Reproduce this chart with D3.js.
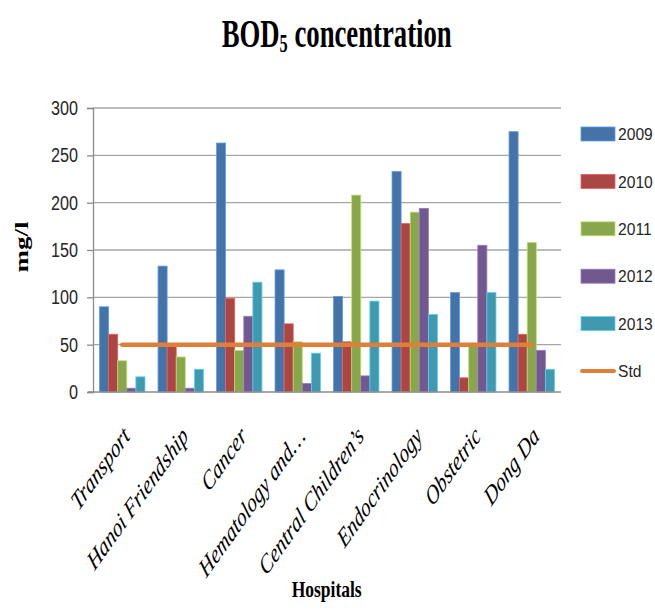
<!DOCTYPE html>
<html>
<head>
<meta charset="utf-8">
<script src="https://cdn.jsdelivr.net/npm/d3@7"></script>
<style>
  html, body { margin: 0; padding: 0; background: #fff; }
  svg { display: block; }
</style>
</head>
<body>
<svg id="chart" width="655" height="610"></svg>
<script>
// ---------- data ----------
const categories = ["Transport", "Hanoi Friendship", "Cancer", "Hematology and\u2026",
  "Central Children\u2019s", "Endocrinology", "Obstetric", "Dong Da"];
const years = ["2009", "2010", "2011", "2012", "2013"];
const v2009 = [90, 133, 263, 129, 101, 233, 105, 275];
const v2010 = [61, 48, 99, 72, 53, 178, 15, 61];
const v2011 = [33, 37, 44, 53, 208, 190, 48, 158];
const v2012 = [4, 4, 80, 9, 17, 194, 155, 44];
const v2013 = [16, 24, 116, 41, 96, 82, 105, 24];
const stdValues = [50, 50, 50, 50, 50, 50, 50, 50];
const yTicks = [0, 50, 100, 150, 200, 250, 300];
const seriesValues = [v2009, v2010, v2011, v2012, v2013];
const colors = ["#4572A7", "#AA4643", "#89A54E", "#71588F", "#4198AF"];
const stdColor = "#DE7F3A";

// ---------- layout ----------
const svg = d3.select("#chart");
const plot = { left: 93, right: 561, top: 108, bottom: 392 };

const x0 = d3.scaleBand().domain(categories).range([plot.left, plot.right]).paddingInner(0).paddingOuter(0);
const x1 = d3.scaleBand().domain(years).range([0, x0.bandwidth()]).paddingInner(0).paddingOuter(0.72);
const y = d3.scaleLinear().domain([0, 300]).range([plot.bottom, plot.top]);

// helper: horizontally scaled text to match a target width
function fitText(parent, x, yPos, str, opts) {
  const g = parent.append("g").attr("transform", `translate(${x},${yPos})`);
  const t = g.append("text")
    .attr("text-anchor", opts.anchor || "start")
    .attr("font-family", opts.family)
    .attr("font-size", opts.size)
    .attr("font-weight", opts.weight || "normal")
    .attr("font-style", opts.style || "normal")
    .attr("fill", opts.fill || "#000")
    .attr("dy", opts.dy || 0);
  if (typeof str === "function") str(t); else t.text(str);
  let sx = opts.sx;
  if (opts.width) {
    const len = t.node().getComputedTextLength();
    sx = opts.width / len;
  }
  g.attr("transform", `translate(${x},${yPos})${opts.rotate ? ` rotate(${opts.rotate})` : ""} scale(${sx || 1},1)`);
  return g;
}

// ---------- gridlines ----------
svg.append("g").selectAll("line").data(yTicks.filter(d => d > 0)).join("line")
  .attr("x1", plot.left).attr("x2", plot.right)
  .attr("y1", d => y(d)).attr("y2", d => y(d))
  .attr("stroke", "#A6A6A6").attr("stroke-width", 1.3);

// ---------- y axis ----------
const yAxis = svg.append("g").attr("transform", `translate(${plot.left},0)`)
  .call(d3.axisLeft(y).tickValues(yTicks).tickSize(6).tickFormat(""));
yAxis.select(".domain").attr("stroke", "#8C8C8C").attr("stroke-width", 1.3);
yAxis.selectAll(".tick line").attr("stroke", "#8C8C8C").attr("stroke-width", 1.3);

yTicks.forEach(d => {
  fitText(svg, 78, y(d), String(d), {
    anchor: "end", family: "Liberation Sans, Arial, sans-serif", size: 19.5,
    sx: 0.83, dy: "0.36em", fill: "#262626"
  });
});

// ---------- bars ----------
const groups = svg.append("g").selectAll("g").data(categories).join("g")
  .attr("transform", d => `translate(${x0(d)},0)`);
groups.selectAll("rect")
  .data((c, i) => years.map((yr, k) => ({ yr, k, v: seriesValues[k][i] })))
  .join("rect")
  .attr("x", d => x1(d.yr))
  .attr("width", x1.bandwidth())
  .attr("y", d => y(d.v))
  .attr("height", d => y(0) - y(d.v))
  .attr("fill", d => colors[d.k])
  .attr("stroke", d => d3.color(colors[d.k]).brighter(0.9))
  .attr("stroke-width", 0.8);

// x axis baseline
svg.append("line")
  .attr("x1", plot.left - 5).attr("x2", plot.right)
  .attr("y1", y(0)).attr("y2", y(0))
  .attr("stroke", "#8C8C8C").attr("stroke-width", 1.3);

// ---------- Std line ----------
const line = d3.line()
  .x((d, i) => x0(categories[i]) + x0.bandwidth() / 2)
  .y(d => y(d));
svg.append("path").datum(stdValues)
  .attr("d", line)
  .attr("fill", "none")
  .attr("stroke", stdColor)
  .attr("stroke-width", 4.5)
  .attr("stroke-linecap", "round");

// ---------- category labels ----------
categories.forEach(c => {
  const cx = x0(c) + x0.bandwidth() / 2;
  const g = svg.append("g").attr("transform", `translate(${cx + 4},${431}) scale(0.71,1) rotate(-45)`);
  g.append("text")
    .attr("text-anchor", "end")
    .attr("dy", "0.35em")
    .attr("font-family", "Liberation Serif, Times New Roman, serif")
    .attr("font-style", "italic")
    .attr("font-size", 26.5)
    .attr("fill", "#000")
    .text(c);
});

// ---------- titles ----------
fitText(svg, 336.7, 47.3, t => {
  t.append("tspan").text("BOD");
  t.append("tspan").attr("font-size", 25).attr("dy", 4.5).text("5");
  t.append("tspan").attr("dy", -4.5).text("\u00a0concentration");
}, { anchor: "middle", family: "Liberation Serif, Times New Roman, serif", size: 41, weight: "bold", width: 230 });

fitText(svg, 326.7, 597, "Hospitals", {
  anchor: "middle", family: "Liberation Serif, Times New Roman, serif", size: 23, weight: "bold", width: 70
});

// y title (vertical)
(function () {
  const g = svg.append("g");
  const t = g.append("text")
    .attr("text-anchor", "middle")
    .attr("font-family", "Liberation Serif, Times New Roman, serif")
    .attr("font-size", 18)
    .attr("font-weight", "bold")
    .text("mg/l");
  const len = t.node().getComputedTextLength();
  g.attr("transform", `translate(28,247) rotate(-90) scale(${51 / len},1)`);
})();

// ---------- legend ----------
const legendItems = years.map((yr, k) => ({ label: yr, color: colors[k], type: "rect" }))
  .concat([{ label: "Std", color: stdColor, type: "line" }]);
const legendY = d3.scalePoint().domain(legendItems.map(d => d.label)).range([134, 371]);
legendItems.forEach(d => {
  const cy = legendY(d.label);
  if (d.type === "rect") {
    svg.append("rect").attr("x", 581).attr("y", cy - 7).attr("width", 34).attr("height", 14)
      .attr("fill", d.color)
      .attr("stroke", d3.color(d.color).brighter(0.9)).attr("stroke-width", 0.8);
  } else {
    svg.append("line").attr("x1", 582).attr("x2", 614).attr("y1", cy).attr("y2", cy)
      .attr("stroke", d.color).attr("stroke-width", 4).attr("stroke-linecap", "round");
  }
  fitText(svg, 618, cy, d.label, {
    anchor: "start", family: "Liberation Sans, Arial, sans-serif", size: 17,
    sx: 0.92, dy: "0.36em", fill: "#262626"
  });
});
</script>
</body>
</html>
